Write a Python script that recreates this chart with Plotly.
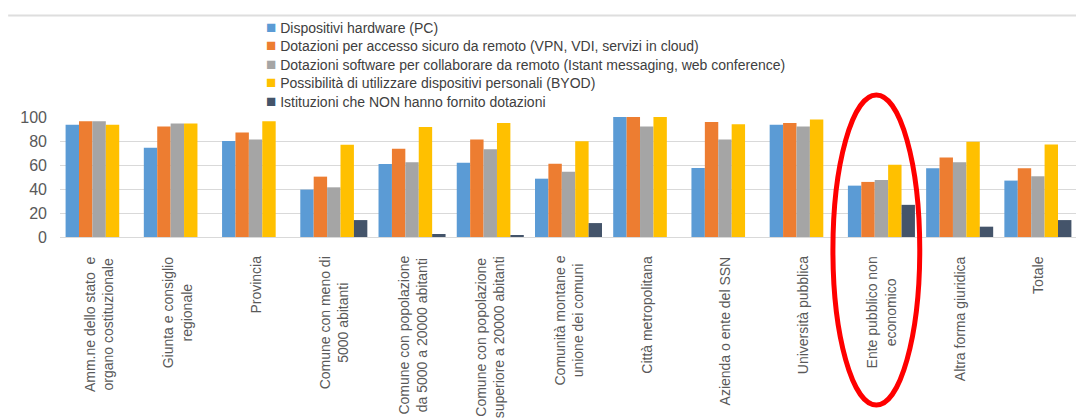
import plotly.graph_objects as go

categories = [
    "Amm.ne dello stato  e<br>organo costituzionale",
    "Giunta e consiglio<br>regionale",
    "Provincia",
    "Comune con meno di<br>5000 abitanti",
    "Comune con popolazione<br>da 5000 a 20000 abitanti",
    "Comune con popolazione<br>superiore a 20000 abitanti",
    "Comunità montane e<br>unione dei comuni",
    "Città metropolitana",
    "Azienda o ente del SSN",
    "Università pubblica",
    "Ente pubblico non<br>economico",
    "Altra forma giuridica",
    "Totale",
]

series_names = [
    "Dispositivi hardware (PC)",
    "Dotazioni per accesso sicuro da remoto (VPN, VDI, servizi in cloud)",
    "Dotazioni software per collaborare da remoto (Istant messaging, web conference)",
    "Possibilità di utilizzare dispositivi personali (BYOD)",
    "Istituzioni che NON hanno fornito dotazioni",
]

hardware = [93.6, 74.3, 80.0, 39.5, 60.8, 61.9, 48.6, 100, 57.5, 93.6, 42.8, 57.2, 47.0]
accesso_remoto = [96.4, 92.0, 87.0, 50.3, 73.5, 81.2, 61.0, 100, 95.9, 95.0, 45.9, 66.3, 57.2]
software_collab = [96.4, 94.5, 81.2, 41.4, 62.2, 73.2, 54.4, 92.0, 81.2, 92.0, 47.5, 62.2, 50.6]
byod = [93.6, 94.5, 96.4, 76.8, 91.7, 95.0, 79.8, 100, 93.9, 98.0, 60.2, 79.3, 77.1]
nessuna_dotazione = [None, None, None, 14.1, 2.5, 1.4, 11.6, None, None, None, 26.8, 8.6, 14.1]

colors = ["#5B9BD5", "#ED7D31", "#A5A5A5", "#FFC000", "#44546A"]

FONT = "Liberation Sans, Arial, sans-serif"
TEXT_COLOR = "#595959"

fig = go.Figure()
xs = list(range(len(categories)))
for name, vals, col in zip(series_names,
                           [hardware, accesso_remoto, software_collab, byod, nessuna_dotazione],
                           colors):
    fig.add_trace(go.Bar(x=xs, y=vals, name=name, marker_color=col,
                         marker_line_width=0, showlegend=False))

# legend drawn as text lines (square + label, Excel-like)
for k, (name, col) in enumerate(zip(series_names, colors)):
    fig.add_annotation(
        xref="paper", yref="paper", x=0.2006, y=1 + (117 - (27 + 18.5 * k)) / 120,
        xanchor="left", yanchor="middle", showarrow=False,
        text=f"<span style='color:{col};font-size:17px'>■</span> {name}",
        font=dict(family=FONT, size=14, color="#404040"),
    )

# category labels, rotated, lines centered like Excel
for i, cat in enumerate(categories):
    fig.add_annotation(
        xref="x", yref="paper", x=i, y=0, yshift=-17,
        xanchor="center", yanchor="top", showarrow=False, textangle=-90,
        align="center", text=cat,
        font=dict(family=FONT, size=14, color=TEXT_COLOR),
    )

# thin frame line at the top
fig.add_shape(type="line", xref="paper", yref="paper",
              x0=-0.051, x1=1.01, y0=1.846, y1=1.846,
              line=dict(color="#dedede", width=2))

# red ellipse around "Ente pubblico non economico"
fig.add_shape(type="circle", xref="x", yref="paper",
              x0=10 - 0.62, x1=10 + 0.49, y0=-1.4, y1=1.183,
              line=dict(color="#ff0000", width=5))

# page body adds 8px margin, so the figure is 8px smaller on each side
fig.update_layout(
    width=1076, height=411,
    margin=dict(l=52, r=7, t=109, b=182),
    barmode="group", bargap=0.143, bargroupgap=0,
    plot_bgcolor="white", paper_bgcolor="white",
    font=dict(family=FONT, color=TEXT_COLOR),
)
fig.update_xaxes(range=[-0.5, len(categories) - 0.5], showticklabels=False,
                 showgrid=False, zeroline=False, showline=False)
fig.update_yaxes(range=[0, 100], dtick=20, showgrid=True, gridcolor="#d9d9d9",
                 gridwidth=1, zeroline=True, zerolinecolor="#d9d9d9", zerolinewidth=1,
                 showline=False, ticklabelstandoff=12,
                 tickfont=dict(family=FONT, size=16, color=TEXT_COLOR))

fig.write_html("out.html")
